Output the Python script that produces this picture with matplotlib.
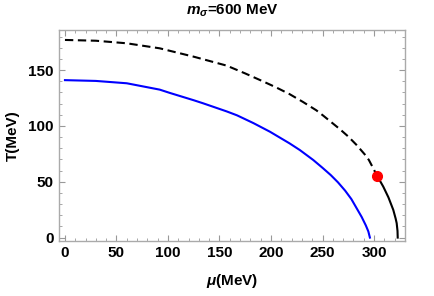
import numpy as np
import matplotlib
matplotlib.use("Agg")
import matplotlib.pyplot as plt
from matplotlib.ticker import MultipleLocator

# curves (mu in MeV, T in MeV)
mu_blue = [0, 30, 60, 92, 102, 125, 134, 157, 167, 183, 199, 218, 228, 241, 250, 258, 265, 272, 278, 283, 288, 292, 294.5, 296]
T_blue = [141, 140.3, 138.2, 132.5, 129.5, 123, 120.3, 113, 109.5, 102.5, 94.8, 84.4, 78.4, 69.5, 62.5, 56, 49.5, 42, 34.5, 26.5, 18.5, 11, 5.5, 0]

mu_dash = [0, 30, 60, 92, 125, 157, 175, 192, 205, 218, 231, 244, 251, 257, 267, 275, 283, 291, 295, 299, 303]
T_dash = [177, 176.3, 174, 169.5, 162, 154, 147, 140, 134.5, 128.5, 121.5, 114, 109, 104.5, 97, 90.5, 83, 74.5, 69.5, 62.5, 55.2]

mu_solid = [303, 306, 309, 314, 318.7, 321, 322, 322.8, 323]
T_solid = [55.2, 50.5, 45.6, 36, 24.8, 17, 12.9, 6, 0]

mu_cep = [303]
T_cep = [55.2]


def main():
    plt.rcParams['font.family'] = ['Liberation Sans', 'DejaVu Sans']
    plt.rcParams['font.weight'] = 'bold'
    plt.rcParams['mathtext.fontset'] = 'custom'
    plt.rcParams['mathtext.rm'] = 'Liberation Sans:bold'
    plt.rcParams['mathtext.it'] = 'Liberation Sans:italic:bold'

    fig = plt.figure(figsize=(4.34, 2.96), dpi=100)
    ax = fig.add_axes([0.1366, 0.186, 0.7964, 0.713])

    ax.plot(mu_blue, T_blue, color='#0000ff', lw=1.5)
    ax.plot(mu_dash, T_dash, color='black', lw=1.5, dashes=(4, 2.2))
    ax.plot(mu_solid, T_solid, color='black', lw=1.5)
    ax.plot(mu_cep, T_cep, 'o', color='#ff0000', ms=7, zorder=5)

    ax.set_xlim(-5.5, 330)
    ax.set_ylim(-3, 186)
    ax.xaxis.set_major_locator(MultipleLocator(50))
    ax.xaxis.set_minor_locator(MultipleLocator(10))
    ax.yaxis.set_major_locator(MultipleLocator(50))
    ax.yaxis.set_minor_locator(MultipleLocator(10))
    ax.tick_params(which='both', direction='in', top=True, right=True, color='#999999',
                   labelsize=11, pad=4)
    ax.tick_params(which='major', length=4, width=0.8)
    ax.tick_params(which='minor', length=2, width=0.6)
    for s in ax.spines.values():
        s.set_color('#aaaaaa')
        s.set_linewidth(1.0)
    for lab in ax.get_xticklabels() + ax.get_yticklabels():
        lab.set_fontweight('bold')

    ax.set_xlabel(r'$\mu$(MeV)', fontsize=11, fontweight='bold', labelpad=8)
    ax.set_ylabel('T(MeV)', fontsize=11, fontweight='bold', labelpad=6)
    ax.set_title(r'$m_\sigma$=600 MeV', fontsize=11, fontweight='bold', pad=11)

    fig.savefig('out.png', dpi=100)


if __name__ == "__main__":
    main()
